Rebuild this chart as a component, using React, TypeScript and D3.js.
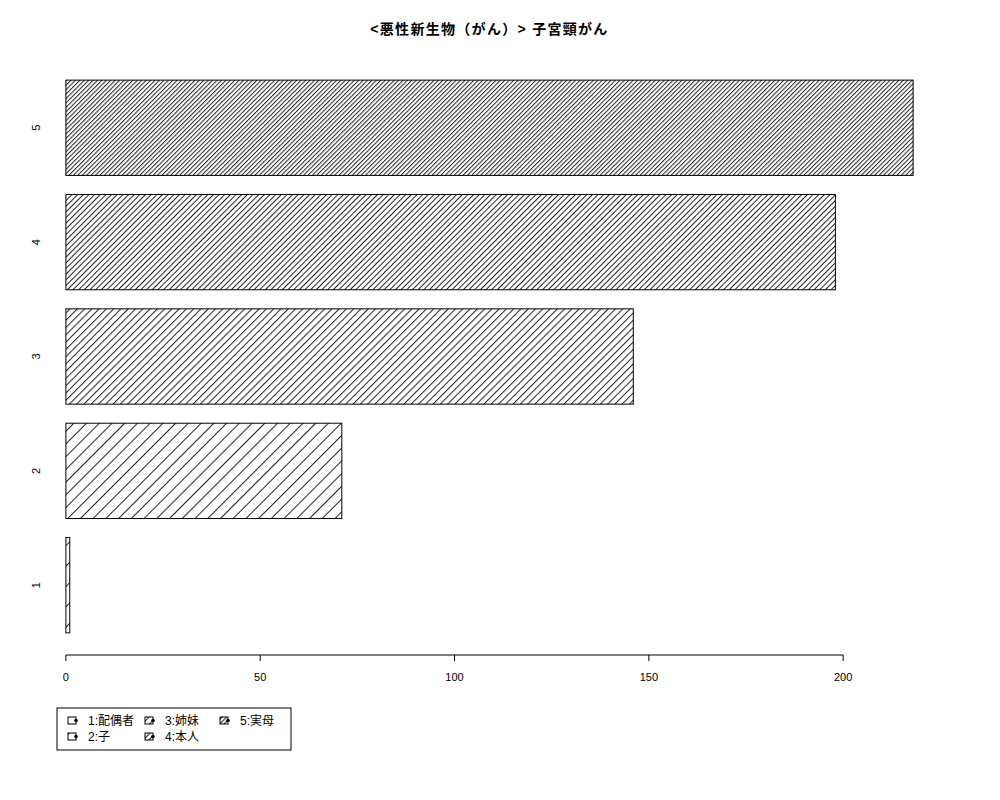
import * as d3 from "d3";

const W = 1000;
const H = 800;
// plot region in pixels (R default margins)
const PLOT = { left: 32, right: 947, top: 58, bottom: 655 };

const TITLE = "<悪性新生物（がん）> 子宮頸がん";
const categories = ["1", "2", "3", "4", "5"];
const counts = [1, 71, 146, 198, 218];
const xTicks = [0, 50, 100, 150, 200];
const legendLabels = ["1:配偶者", "2:子", "3:姉妹", "4:本人", "5:実母"];
// hatch density, lines per inch (R style)
const DENSITY = [5, 8, 14, 18, 23];

const FONT = "'Liberation Sans', Arial, 'Noto Sans CJK JP', sans-serif";

export default function App() {
  const maxV = d3.max(counts) ?? 1;
  const x = d3
    .scaleLinear()
    .domain([-0.04 * maxV, 1.04 * maxV])
    .range([PLOT.left, PLOT.right]);

  // bars at [0.2 + 1.2i, 1.2 + 1.2i], R style space = 0.2
  const lo = 0.2;
  const hi = 0.2 + 1.2 * (categories.length - 1) + 1;
  const ext = (hi - lo) * 0.04;
  const y = d3
    .scaleLinear()
    .domain([lo - ext, hi + ext])
    .range([PLOT.bottom, PLOT.top]);

  const bars = categories.map((c, i) => ({
    name: c,
    value: counts[i],
    y0: 0.2 + 1.2 * i,
    y1: 1.2 + 1.2 * i,
    pat: `hatch${i}`,
  }));

  const axisY = PLOT.bottom;

  // legend: 3 columns, filled column-wise
  const legX = 57;
  const legY = 708;
  const colX = [68, 145, 220];
  const rowY = [721, 737];

  return (
    <svg
      width={W}
      height={H}
      style={{ position: "absolute", left: 0, top: 0, background: "#fff" }}
    >
      <defs>
        {DENSITY.map((d, i) => {
          const p = 72 / d;
          return (
            <pattern
              key={i}
              id={`hatch${i}`}
              patternUnits="userSpaceOnUse"
              width={p}
              height={p}
              patternTransform="rotate(45)"
            >
              <rect width={p} height={p} fill="#fff" />
              <line x1={0.5} y1={0} x2={0.5} y2={p} stroke="#222" strokeWidth={1} />
            </pattern>
          );
        })}
      </defs>

      <text
        x={(PLOT.left + PLOT.right) / 2}
        y={34}
        textAnchor="middle"
        fontFamily={FONT}
        fontWeight="bold"
        fontSize={14}
        letterSpacing={1.3}
      >
        {TITLE}
      </text>

      {bars.map((b) => (
        <rect
          key={b.name}
          x={x(0)}
          y={y(b.y1)}
          width={x(b.value) - x(0)}
          height={y(b.y0) - y(b.y1)}
          fill={`url(#${b.pat})`}
          stroke="#000"
          strokeWidth={1}
        />
      ))}

      {bars.map((b) => {
        const cy = y((b.y0 + b.y1) / 2);
        return (
          <text
            key={b.name}
            transform={`translate(${40},${cy}) rotate(-90)`}
            textAnchor="middle"
            fontFamily={FONT}
            fontSize={11}
          >
            {b.name}
          </text>
        );
      })}

      <g fontFamily={FONT} fontSize={11}>
        <line
          x1={x(xTicks[0])}
          x2={x(xTicks[xTicks.length - 1])}
          y1={axisY}
          y2={axisY}
          stroke="#000"
        />
        {xTicks.map((t) => (
          <g key={t} transform={`translate(${x(t)},0)`}>
            <line y1={axisY} y2={axisY + 6} stroke="#000" />
            <text y={axisY + 26} textAnchor="middle">
              {t}
            </text>
          </g>
        ))}
      </g>

      <rect x={legX} y={legY} width={234} height={42} fill="#fff" stroke="#000" />
      {legendLabels.map((lab, i) => {
        const col = Math.floor(i / 2);
        const row = i % 2;
        const bx = colX[col];
        const by = rowY[row];
        return (
          <g key={lab}>
            <rect
              x={bx}
              y={by - 4}
              width={8}
              height={7}
              fill={i === 0 ? "#fff" : `url(#hatch${i})`}
              stroke="#000"
            />
            <circle cx={bx + 8} cy={by - 0.5} r={1.8} fill="#000" />
            <text x={bx + 20} y={by + 4} fontFamily={FONT} fontSize={12}>
              {lab}
            </text>
          </g>
        );
      })}
    </svg>
  );
}
